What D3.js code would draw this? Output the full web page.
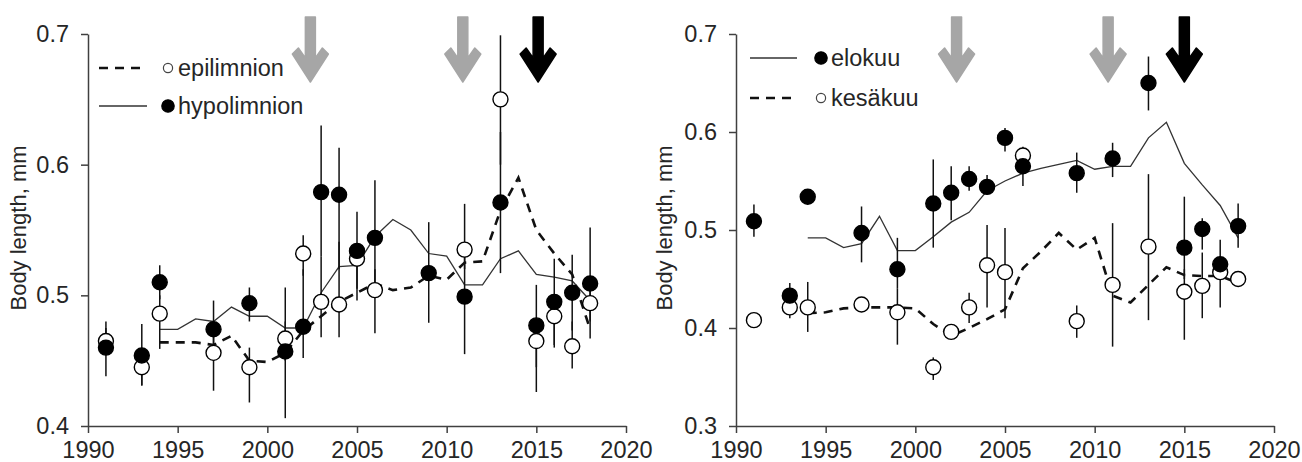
<!DOCTYPE html>
<html>
<head>
<meta charset="utf-8">
<script src="https://cdn.jsdelivr.net/npm/d3@7"></script>
<style>
  body { margin: 0; background: #fff; }
  svg { font-family: Arial, "Liberation Sans", sans-serif; }
  .axis path, .axis line { stroke: #404040; stroke-width: 1.5; }
  .axis text { font-size: 23.5px; fill: #262626; font-family: Arial, "Liberation Sans", sans-serif; }
  .label { font-size: 22px; fill: #262626; }
  .legend { font-size: 23.5px; fill: #262626; }
</style>
</head>
<body>
<svg id="chart" width="1302" height="462"></svg>
<script>
// ---- left panel: epilimnion / hypolimnion ----
const leftYears = [1991, 1993, 1994, 1997, 1999, 2001, 2002, 2003, 2004, 2005, 2006, 2009, 2011, 2013, 2015, 2016, 2017, 2018];
const hypoMean = [0.460, 0.454, 0.510, 0.474, 0.494, 0.457, 0.476, 0.579, 0.577, 0.534, 0.544, 0.517, 0.499, 0.571, 0.477, 0.495, 0.502, 0.509];
const hypoLow  = [0.438, 0.431, 0.497, 0.450, 0.480, 0.406, 0.452, 0.530, 0.520, 0.505, 0.500, 0.479, 0.455, 0.517, 0.445, 0.462, 0.473, 0.467];
const hypoHigh = [0.480, 0.478, 0.523, 0.496, 0.506, 0.506, 0.520, 0.630, 0.613, 0.564, 0.588, 0.556, 0.540, 0.625, 0.508, 0.528, 0.531, 0.552];
const epiMean  = [0.465, 0.445, 0.486, 0.456, 0.445, 0.467, 0.532, 0.495, 0.493, 0.528, 0.504, null, 0.535, 0.650, 0.465, 0.484, 0.461, 0.494];
const epiLow   = [0.455, 0.431, 0.459, 0.427, 0.418, 0.450, 0.515, 0.468, 0.468, 0.496, 0.471, null, 0.520, 0.600, 0.426, 0.460, 0.444, 0.480];
const epiHigh  = [0.475, 0.458, 0.500, 0.470, 0.460, 0.480, 0.546, 0.530, 0.541, 0.540, 0.520, null, 0.570, 0.699, 0.480, 0.500, 0.480, 0.510];

const leftLineYears = d3.range(1994, 2019);
const hypoLine = [0.474, 0.474, 0.482, 0.480, 0.491, 0.484, 0.484, 0.475, 0.475, 0.502, 0.522, 0.523, 0.545, 0.558, 0.550, 0.532, 0.530, 0.508, 0.508, 0.528, 0.534, 0.516, 0.514, 0.511, 0.496];
const epiLine  = [0.464, 0.464, 0.464, 0.462, 0.469, 0.450, 0.449, 0.456, 0.473, 0.484, 0.495, 0.502, 0.509, 0.504, 0.506, 0.515, 0.512, 0.525, 0.526, 0.565, 0.590, 0.550, 0.532, 0.516, 0.474];

// ---- right panel: elokuu / kesakuu ----
const rightYears = [1991, 1993, 1994, 1997, 1999, 2001, 2002, 2003, 2004, 2005, 2006, 2009, 2011, 2013, 2015, 2016, 2017, 2018];
const eloMean = [0.509, 0.433, 0.534, 0.497, 0.460, 0.527, 0.538, 0.552, 0.544, 0.594, 0.565, 0.558, 0.573, 0.650, 0.482, 0.501, 0.465, 0.504];
const eloLow  = [0.493, 0.425, 0.527, 0.467, 0.440, 0.482, 0.510, 0.540, 0.537, 0.580, 0.545, 0.538, 0.554, 0.622, 0.450, 0.480, 0.455, 0.482];
const eloHigh = [0.526, 0.446, 0.540, 0.524, 0.492, 0.572, 0.565, 0.565, 0.556, 0.604, 0.575, 0.579, 0.589, 0.677, 0.534, 0.512, 0.490, 0.527];
const kesMean = [0.408, 0.421, 0.421, 0.424, 0.416, 0.360, 0.396, 0.421, 0.464, 0.457, 0.576, 0.407, 0.444, 0.483, 0.437, 0.443, 0.457, 0.450];
const kesLow  = [0.408, 0.410, 0.396, 0.420, 0.383, 0.347, 0.388, 0.405, 0.421, 0.410, 0.560, 0.390, 0.381, 0.408, 0.388, 0.410, 0.421, 0.445];
const kesHigh = [0.408, 0.430, 0.447, 0.428, 0.440, 0.370, 0.402, 0.436, 0.505, 0.502, 0.585, 0.423, 0.507, 0.557, 0.460, 0.477, 0.470, 0.455];

const rightLineYears = d3.range(1994, 2019);
const eloLine = [0.492, 0.492, 0.482, 0.486, 0.514, 0.479, 0.479, 0.493, 0.508, 0.518, 0.540, 0.550, 0.558, 0.563, 0.567, 0.571, 0.562, 0.565, 0.565, 0.594, 0.610, 0.568, 0.546, 0.525, 0.492];
const kesLine = [0.415, 0.416, 0.420, 0.421, 0.421, 0.421, 0.420, 0.404, 0.392, 0.400, 0.409, 0.419, 0.461, 0.478, 0.497, 0.480, 0.492, 0.433, 0.426, 0.444, 0.462, 0.454, 0.453, 0.453, 0.446];

// arrows (year, colour)
const leftArrowYears = [2002.4, 2010.9, 2015.1];
const rightArrowYears = [2002.3, 2010.75, 2015.0];
const arrowColors = ['#a6a6a6', '#a6a6a6', '#000'];

const xTicks = [1990, 1995, 2000, 2005, 2010, 2015, 2020];

const svg = d3.select('#chart');

function zipSeries(years, mean, low, high) {
    return years.map((y, i) => ({year: y, v: mean[i], lo: low[i], hi: high[i]}))
        .filter(d => d.v !== null);
}

function drawPanel(cfg) {
    const x = d3.scaleLinear().domain([1990, 2020]).range([cfg.x0, cfg.x1]);
    const y = d3.scaleLinear().domain(cfg.yDomain).range([426, 34]);

    const g = svg.append('g');

    g.append('g')
        .attr('class', 'axis')
        .attr('transform', `translate(0, 426)`)
        .call(d3.axisBottom(x).tickValues(xTicks).tickFormat(d3.format('d')).tickSize(7).tickSizeOuter(0).tickPadding(8));

    g.append('g')
        .attr('class', 'axis')
        .attr('transform', `translate(${cfg.x0}, 0)`)
        .call(d3.axisLeft(y).tickValues(cfg.yTicks).tickFormat(d3.format('.1f')).tickSize(7).tickSizeOuter(0).tickPadding(12));

    g.selectAll('.axis .domain').attr('stroke', '#404040');

    // y label
    g.append('text')
        .attr('class', 'label')
        .attr('transform', `translate(${cfg.labelX}, 228) rotate(-90)`)
        .attr('text-anchor', 'middle')
        .text('Body length, mm');

    // arrows
    cfg.arrows.forEach((yr, i) => {
        const cx = x(yr);
        g.append('path')
            .attr('d', `M${cx - 5},17 L${cx + 5},17 L${cx + 5},58 L${cx + 12},48 L${cx + 18},54 L${cx},82 L${cx - 18},54 L${cx - 12},48 L${cx - 5},58 Z`)
            .attr('fill', arrowColors[i])
            .attr('stroke', arrowColors[i])
            .attr('stroke-width', 1.5)
            .attr('stroke-linejoin', 'round');
    });

    // running mean lines
    const line = d3.line().x(d => x(d[0])).y(d => y(d[1]));
    cfg.lines.forEach(l => {
        g.append('path')
            .datum(l.years.map((yr, i) => [yr, l.values[i]]))
            .attr('fill', 'none')
            .attr('stroke', l.dashed ? '#111' : '#333')
            .attr('stroke-width', l.dashed ? 2.6 : 1.3)
            .attr('stroke-dasharray', l.dashed ? '9,7' : null)
            .attr('d', line);
    });

    // error bars
    cfg.points.forEach(s => {
        g.append('g').selectAll('line')
            .data(s.data.filter(d => d.hi > d.lo))
            .join('line')
            .attr('x1', d => x(d.year)).attr('x2', d => x(d.year))
            .attr('y1', d => y(d.hi)).attr('y2', d => y(d.lo))
            .attr('stroke', '#111')
            .attr('stroke-width', 1.5);
    });

    // points
    cfg.points.forEach(s => {
        g.append('g').selectAll('circle')
            .data(s.data)
            .join('circle')
            .attr('cx', d => x(d.year))
            .attr('cy', d => y(d.v))
            .attr('r', 7.5)
            .attr('fill', s.filled ? '#000' : '#fff')
            .attr('stroke', '#000')
            .attr('stroke-width', 1.4);
    });

    // legend
    cfg.legend.forEach((item, i) => {
        const ly = cfg.legendY[i];
        g.append('line')
            .attr('x1', cfg.legendX[0]).attr('x2', cfg.legendX[1])
            .attr('y1', ly).attr('y2', ly)
            .attr('stroke', item.dashed ? '#111' : '#333')
            .attr('stroke-width', item.dashed ? 2.6 : 1.3)
            .attr('stroke-dasharray', item.dashed ? '9,7' : null);
        g.append('circle')
            .attr('cx', cfg.legendX[2]).attr('cy', ly)
            .attr('r', item.filled ? 6.2 : 4.6)
            .attr('fill', item.filled ? '#000' : '#fff')
            .attr('stroke', item.filled ? '#000' : '#444')
            .attr('stroke-width', 1.2);
        g.append('text')
            .attr('class', 'legend')
            .attr('x', cfg.legendX[2] + 10)
            .attr('y', ly)
            .attr('dy', '0.36em')
            .text(item.name);
    });
}

drawPanel({
    x0: 88, x1: 626,
    yDomain: [0.4, 0.7], yTicks: [0.4, 0.5, 0.6, 0.7],
    labelX: 26,
    arrows: leftArrowYears,
    lines: [
        {years: leftLineYears, values: hypoLine, dashed: false},
        {years: leftLineYears, values: epiLine, dashed: true}
    ],
    points: [
        {data: zipSeries(leftYears, epiMean, epiLow, epiHigh), filled: false},
        {data: zipSeries(leftYears, hypoMean, hypoLow, hypoHigh), filled: true}
    ],
    legend: [
        {name: 'epilimnion', dashed: true, filled: false},
        {name: 'hypolimnion', dashed: false, filled: true}
    ],
    legendX: [99, 147, 168],
    legendY: [68, 106]
});

drawPanel({
    x0: 736, x1: 1274,
    yDomain: [0.3, 0.7], yTicks: [0.3, 0.4, 0.5, 0.6, 0.7],
    labelX: 672,
    arrows: rightArrowYears,
    lines: [
        {years: rightLineYears, values: eloLine, dashed: false},
        {years: rightLineYears, values: kesLine, dashed: true}
    ],
    points: [
        {data: zipSeries(rightYears, kesMean, kesLow, kesHigh), filled: false},
        {data: zipSeries(rightYears, eloMean, eloLow, eloHigh), filled: true}
    ],
    legend: [
        {name: 'elokuu', dashed: false, filled: true},
        {name: 'kesäkuu', dashed: true, filled: false}
    ],
    legendX: [750, 797, 821],
    legendY: [58, 98]
});
</script>
</body>
</html>
